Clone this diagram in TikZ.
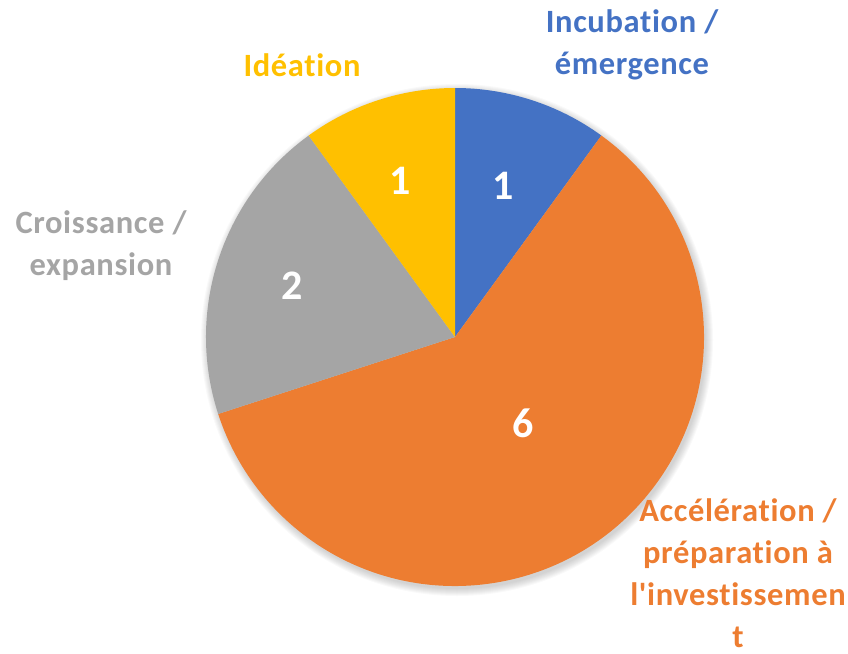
\documentclass[tikz,border=0pt]{standalone}
\usepackage{fontspec}
\setmainfont{Carlito}[Ligatures={TeXOff,NoCommon}]
\usetikzlibrary{positioning}

\definecolor{incub}{HTML}{4472C4}
\definecolor{accel}{HTML}{ED7D31}
\definecolor{croiss}{HTML}{A5A5A5}
\definecolor{idea}{HTML}{FFC000}

\tikzset{
    legend/.style={font=\fontsize{32.5}{42}\selectfont\bfseries\addfontfeature{LetterSpace=2},
        align=center, inner sep=0pt},
    count/.style={text=white, font=\fontsize{42}{50}\selectfont\bfseries}
}

\begin{document}
\begin{tikzpicture}[x=1pt,y=1pt]
        \useasboundingbox (0,0) rectangle (848,-653);
        \coordinate(c) at (455,-337);
        \coordinate(s) at (457,-340);

        % soft shadow
        \foreach \r in {0,1,...,7}
            \fill[black, opacity=0.025] (s) circle[radius=249+\r];

        \fill[incub] (c) -- ++(90:249) arc[start angle=90, end angle=54, radius=249] -- cycle;
        \fill[accel] (c) -- ++(54:249) arc[start angle=54, end angle=-162, radius=249] -- cycle;
        \fill[croiss] (c) -- ++(198:249) arc[start angle=198, end angle=126, radius=249] -- cycle;
        \fill[idea] (c) -- ++(126:249) arc[start angle=126, end angle=90, radius=249] -- cycle;

        \node(n1) [count] at (503,-186) {1};
        \node(n2) [count] at (523,-423) {6};
        \node(n3) [count] at (292,-286) {2};
        \node(n4) [count] at (400,-181) {1};

        \node(l1) [legend, text=incub] at (632,-45) {Incubation /\\émergence};
        \node(l2) [legend, text=accel] at (738,-573) {Accélération /\\préparation à\\l'investissemen\\t};
        \node(l3) [legend, text=croiss] at (101,-246) {Croissance /\\expansion};
        \node(l4) [legend, text=idea] at (302,-65) {Idéation};
    \end{tikzpicture}
\end{document}
